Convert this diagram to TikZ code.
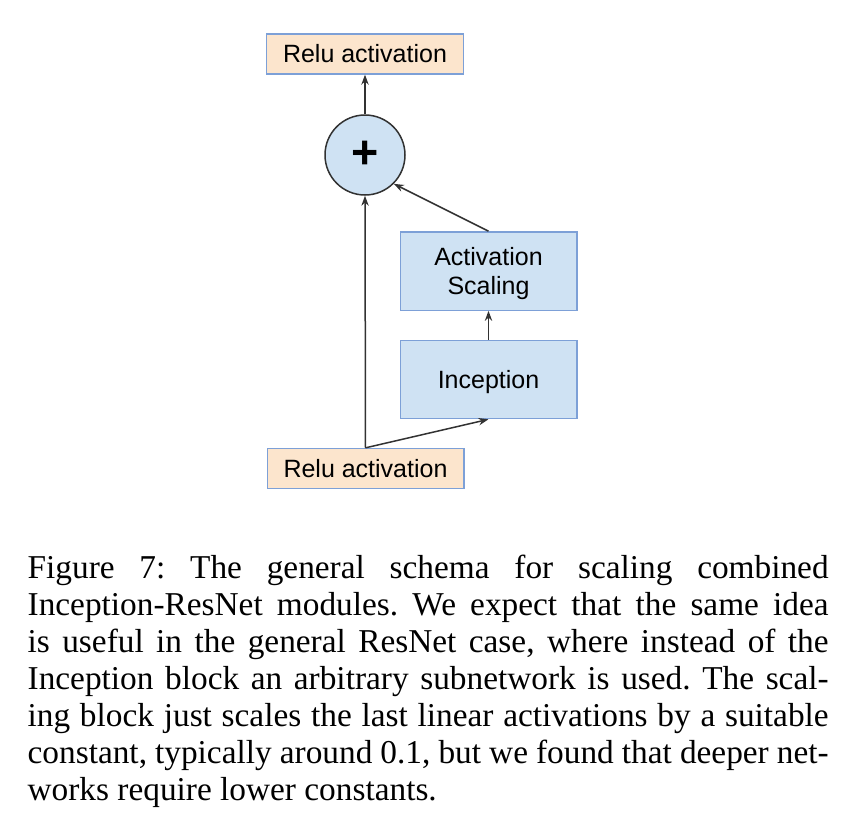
\documentclass[tikz,border=0pt]{standalone}
\usepackage{fontspec}
\setmainfont{Liberation Serif}
\setsansfont{Liberation Sans}
\usetikzlibrary{arrows.meta}
\frenchspacing
\definecolor{relufill}{RGB}{252,229,205}
\definecolor{blockfill}{RGB}{207,226,243}
\definecolor{boxline}{RGB}{125,160,215}
\definecolor{arrowgray}{RGB}{50,50,50}
\tikzset{
	relu/.style={draw=boxline, fill=relufill, line width=0.4pt, minimum width=59pt, minimum height=12pt, inner sep=0pt, font=\sffamily\fontsize{7.5}{8.7}\selectfont},
	block/.style={draw=boxline, fill=blockfill, line width=0.4pt, minimum width=53pt, minimum height=23.5pt, inner sep=0pt, text depth=0pt, align=center, font=\sffamily\fontsize{7.5}{8.7}\selectfont},
	flow/.style={draw=arrowgray, line width=0.45pt, -{Stealth[length=3pt,width=2.2pt]}}
}
\begin{document}
\begin{tikzpicture}[x=0.3pt, y=-0.3pt]
		\useasboundingbox (0,0) rectangle (843,816);
		\node[relu] (reluout) at (365,54) {Relu activation};
		\node[circle, draw=arrowgray, fill=blockfill, line width=0.45pt, minimum size=24pt, inner sep=0pt, font=\sffamily\bfseries\fontsize{14}{14}\selectfont] (plus) at (365,155) {+};
		\node[block] (scale) at (488.5,271) {Activation\\Scaling};
		\node[block] (incep) at (488.5,379.5) {Inception};
		\node[relu] (reluin) at (365.5,468.5) {Relu activation};
		\draw[flow] (reluin.north) -- (plus.south);
		\draw[flow] (reluin.north) -- (incep.south);
		\draw[flow] (incep.north) -- (scale.south);
		\draw[flow] (scale.north) -- (plus.south east);
		\draw[flow] (plus.north) -- (reluout.south);
		% caption
		\node[anchor=north west, inner sep=0pt, text width=240.3pt, align=justify, font=\fontsize{10}{11.1}\selectfont] (caption) at (27,554) {Figure 7: The general schema for scaling combined\linebreak
		Inception-ResNet modules. We expect that the same idea\linebreak
		is useful in the general ResNet case, where instead of the\linebreak
		Inception block an arbitrary subnetwork is used. The scal-\linebreak
		ing block just scales the last linear activations by a suitable\linebreak
		constant, typically around 0.1, but we found that deeper net-\linebreak
		works require lower constants.};
\end{tikzpicture}
\end{document}
